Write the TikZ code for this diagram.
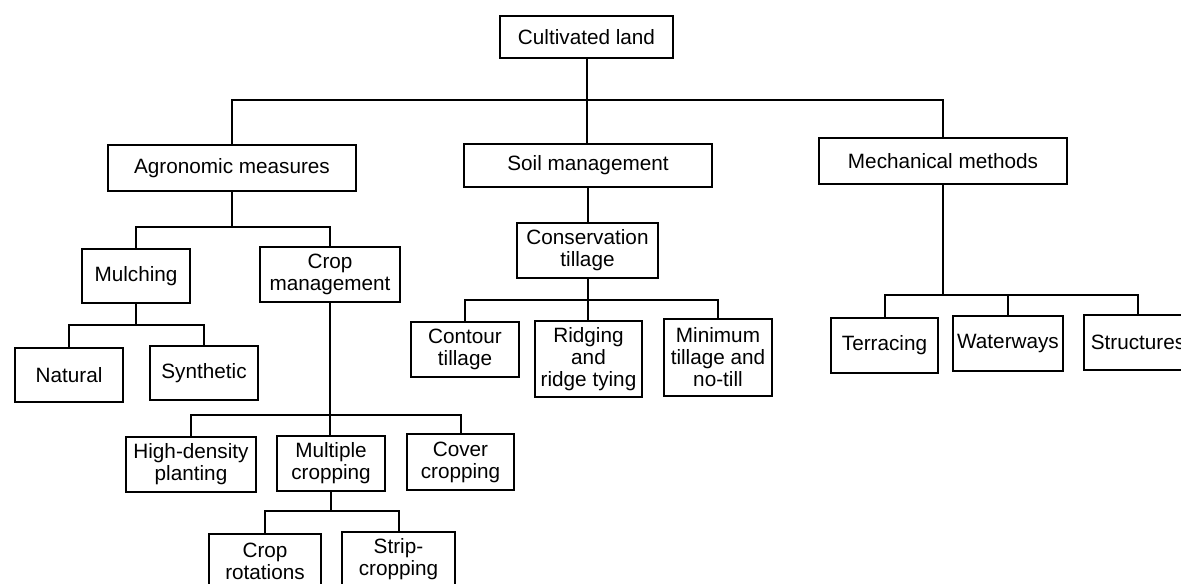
\documentclass[tikz,border=0pt]{standalone}
\usepackage{fontspec}
\setmainfont{Liberation Sans}
\begin{document}
\begin{tikzpicture}[x=1bp,y=-1bp,
  box/.style={draw, line width=2bp, inner sep=0pt, align=center,
    font=\fontsize{20.8}{22}\selectfont},
  link/.style={line width=2bp}]
\useasboundingbox (0,0) rectangle (1181,584);
\clip (0,0) rectangle (1181,584);
\fill[white] (0,0) rectangle (1181,584);
% level 0
\node[box, minimum width=173bp, minimum height=42bp] (cult) at (586.5,37) {Cultivated land};
% level 1
\node[box, minimum width=248bp, minimum height=46bp] (agro) at (232,168) {Agronomic measures};
\node[box, minimum width=248bp, minimum height=43bp] (soil) at (588,165.5) {Soil management};
\node[box, minimum width=248bp, minimum height=46bp] (mech) at (943,161) {Mechanical methods};
% agronomic subtree
\node[box, minimum width=108bp, minimum height=54bp] (mulch) at (136,276) {Mulching};
\node[box, minimum width=140bp, minimum height=55bp] (cropm) at (330,274.5) {Crop\\management};
\node[box, minimum width=108bp, minimum height=54bp] (natural) at (69,375) {Natural};
\node[box, minimum width=108bp, minimum height=54bp] (synth) at (204,373) {Synthetic};
\node[box, minimum width=130bp, minimum height=55bp] (hd) at (191,464.5) {High-density\\planting};
\node[box, minimum width=108bp, minimum height=55bp] (mult) at (331,463.5) {Multiple\\cropping};
\node[box, minimum width=107bp, minimum height=56bp] (cover) at (460.5,462) {Cover\\cropping};
\node[box, minimum width=112bp, minimum height=55bp] (rot) at (265,561.5) {Crop\\rotations};
\node[box, minimum width=113bp, minimum height=55bp] (strip) at (398.5,559.5) {Strip-\\cropping};
% soil subtree
\node[box, minimum width=141bp, minimum height=55bp] (cons) at (587.5,250.5) {Conservation\\tillage};
\node[box, minimum width=108bp, minimum height=55bp] (contour) at (465,349.5) {Contour\\tillage};
\node[box, minimum width=107bp, minimum height=76bp] (ridg) at (588.5,359) {Ridging\\and\\ridge tying};
\node[box, minimum width=108bp, minimum height=77bp] (mini) at (718,357.5) {Minimum\\tillage and\\no-till};
% mechanical subtree
\node[box, minimum width=107bp, minimum height=55bp] (terr) at (884.5,345.5) {Terracing};
\node[box, minimum width=110bp, minimum height=55bp] (water) at (1008,343.5) {Waterways};
\node[box, minimum width=108bp, minimum height=55bp] (struct) at (1138,342.5) {Structures};
% connectors
\coordinate (b0) at (586.5,100);
\draw[link] (cult.south) -- (b0);
\draw[link] (agro.north) |- (b0) -| (mech.north);
\draw[link] (b0) -- (b0 |- soil.north);

\coordinate (b1) at (232,227);
\draw[link] (agro.south) -- (b1);
\draw[link] (mulch.north) |- (b1) -| (cropm.north);

\coordinate (b2) at (136,325);
\draw[link] (mulch.south) -- (b2);
\draw[link] (natural.north) |- (b2) -| (synth.north);

\coordinate (b3) at (330,415);
\draw[link] (cropm.south) -- (b3);
\draw[link] (hd.north) |- (b3) -| (cover.north);
\draw[link] (b3) -- (b3 |- mult.north);

\coordinate (b4) at (331,511);
\draw[link] (mult.south) -- (b4);
\draw[link] (rot.north) |- (b4) -| (strip.north);

\draw[link] (soil.south) -- (soil.south |- cons.north);

\coordinate (b5) at (587.5,300);
\draw[link] (cons.south) -- (b5);
\draw[link] (contour.north) |- (b5) -| (mini.north);
\draw[link] (b5) -- (b5 |- ridg.north);

\coordinate (b6) at (943,295);
\draw[link] (mech.south) -- (b6);
\draw[link] (terr.north) |- (b6) -| (struct.north);
\draw[link] (water.north) -- (water.north |- b6);
\end{tikzpicture}
\end{document}
